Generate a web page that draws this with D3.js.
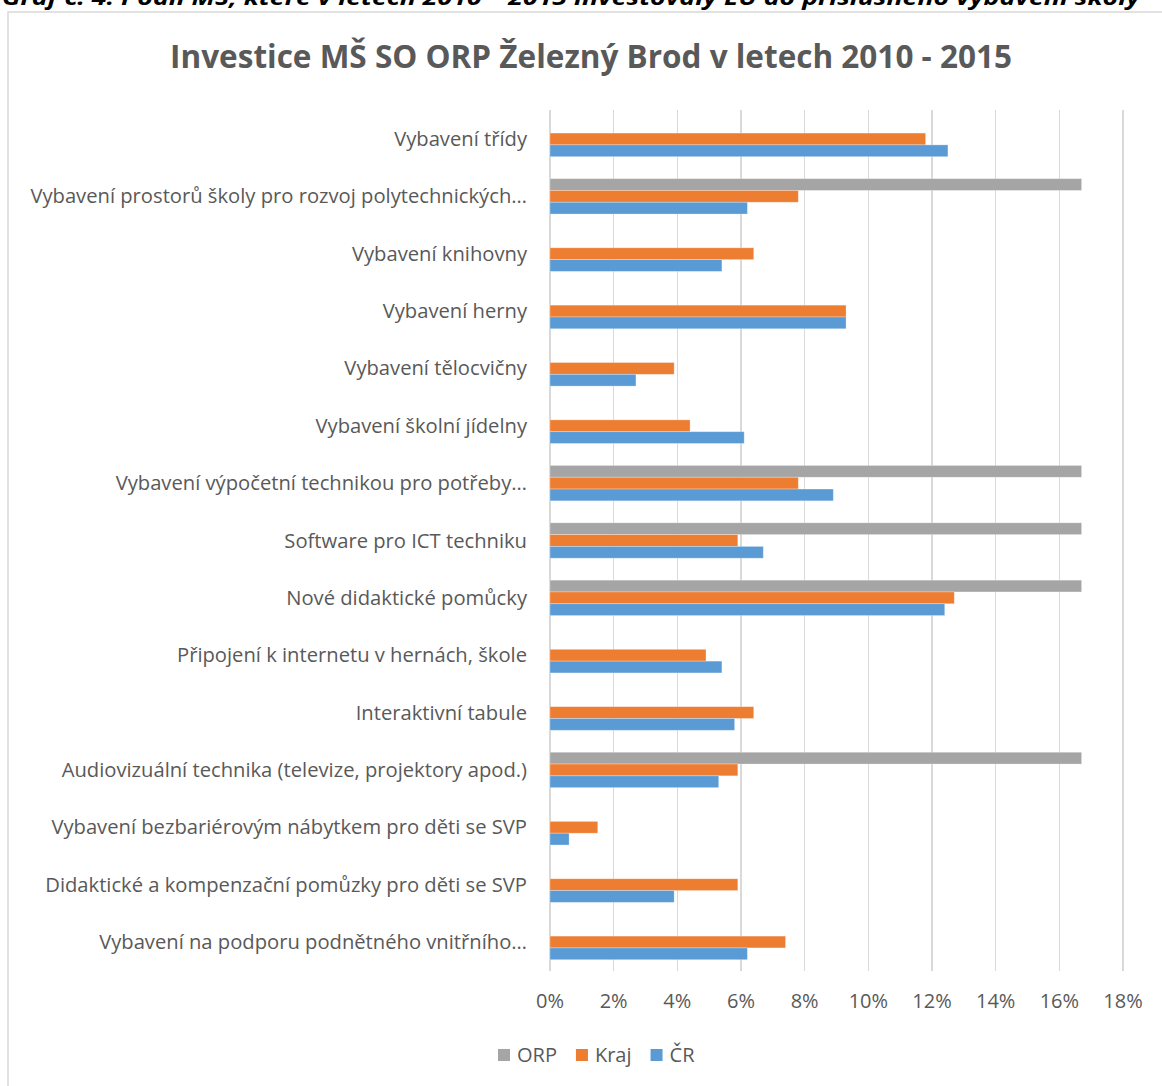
<!DOCTYPE html>
<html>
  <head>
    <meta http-equiv="Content-Type" content="text/html;charset=utf-8"/>
    <style type="text/css">
body {
  margin: 0;
  background: #fff;
  overflow: hidden;
}
svg {
  font-family: "Open Sans", sans-serif;
}
.grid line {
  stroke: #d9d9d9;
  stroke-width: 1.5px;
  shape-rendering: crispEdges;
}
.cat text, .tick-label, .legend text {
  fill: #595959;
}
    </style>
  </head>
  <body>
    <svg></svg>
    <script type="text/javascript" src="https://cdn.jsdelivr.net/npm/d3@7/dist/d3.min.js"></script>
    <script type="text/javascript">

var categories = [
  "Vybavení třídy",
  "Vybavení prostorů školy pro rozvoj polytechnických…",
  "Vybavení knihovny",
  "Vybavení herny",
  "Vybavení tělocvičny",
  "Vybavení školní jídelny",
  "Vybavení výpočetní technikou pro potřeby…",
  "Software pro ICT techniku",
  "Nové didaktické pomůcky",
  "Připojení k internetu v hernách, škole",
  "Interaktivní tabule",
  "Audiovizuální technika (televize, projektory apod.)",
  "Vybavení bezbariérovým nábytkem pro děti se SVP",
  "Didaktické a kompenzační pomůzky pro děti se SVP",
  "Vybavení na podporu podnětného vnitřního…"
];

var orp  = [0, 16.7, 0, 0, 0, 0, 16.7, 16.7, 16.7, 0, 0, 16.7, 0, 0, 0];
var kraj = [11.8, 7.8, 6.4, 9.3, 3.9, 4.4, 7.8, 5.9, 12.7, 4.9, 6.4, 5.9, 1.5, 5.9, 7.4];
var cr   = [12.5, 6.2, 5.4, 9.3, 2.7, 6.1, 8.9, 6.7, 12.4, 5.4, 5.8, 5.3, 0.6, 3.9, 6.2];

var seriesNames = ["ORP", "Kraj", "ČR"];
var seriesColors = ["#a5a5a5", "#ed7d31", "#5b9bd5"];
var xTicks = [0, 2, 4, 6, 8, 10, 12, 14, 16, 18];

var W = 1162, H = 1086;
var svg = d3.select("svg").attr("width", W).attr("height", H);

// caption of the document, cut by the top of the page
svg.append("text")
    .attr("x", 2)
    .attr("y", 5)
    .attr("textLength", 1138)
    .attr("lengthAdjust", "spacingAndGlyphs")
    .style("font-weight", "bold")
    .style("font-style", "italic")
    .style("font-size", "21px")
    .style("fill", "#000")
    .text("Graf č. 4: Podíl MŠ, které v letech 2010 – 2015 investovaly EU do příslušného vybavení školy");

// chart frame
svg.append("rect")
    .attr("x", 8).attr("y", 12)
    .attr("width", W + 10).attr("height", H + 10)
    .attr("fill", "none")
    .attr("stroke", "#d9d9d9")
    .attr("stroke-width", 1.5);

svg.append("text")
    .attr("x", 591)
    .attr("y", 68)
    .attr("text-anchor", "middle")
    .style("font-weight", "bold")
    .style("font-size", "31.5px")
    .style("fill", "#595959")
    .text("Investice MŠ SO ORP Železný Brod v letech 2010 - 2015");

var x = d3.scaleLinear().domain([0, 18]).range([550, 1123]);
var y = d3.scaleBand().domain(categories).range([110.3, 970.7]);
var barH = 11.8;
var yIn = d3.scaleBand().domain(seriesNames)
    .range([y.bandwidth() / 2 - 1.5 * barH, y.bandwidth() / 2 + 1.5 * barH]);

// gridlines
svg.append("g").attr("class", "grid")
  .selectAll("line")
  .data(xTicks)
  .enter().append("line")
    .attr("x1", function(d) { return x(d); })
    .attr("x2", function(d) { return x(d); })
    .attr("y1", 110)
    .attr("y2", 971);

svg.append("g")
  .selectAll("text")
  .data(xTicks)
  .enter().append("text")
    .attr("class", "tick-label")
    .attr("x", function(d) { return x(d); })
    .attr("y", 1001)
    .attr("dy", ".35em")
    .attr("text-anchor", "middle")
    .style("font-size", "20px")
    .text(function(d) { return d + "%"; });

// bars
var rows = categories.map(function(c, i) {
  return {cat: c, values: [orp[i], kraj[i], cr[i]]};
});

var cat = svg.selectAll("g.cat")
    .data(rows)
  .enter().append("g")
    .attr("class", "cat")
    .attr("transform", function(d) { return "translate(0," + y(d.cat) + ")"; });

cat.selectAll("rect")
    .data(function(d) {
      return d.values.map(function(v, j) { return {name: seriesNames[j], value: v, color: seriesColors[j]}; });
    })
  .enter().append("rect")
    .attr("x", x(0))
    .attr("y", function(d) { return yIn(d.name); })
    .attr("height", yIn.bandwidth())
    .attr("width", function(d) { return x(d.value) - x(0); })
    .attr("fill", function(d) { return d.color; })
    .attr("stroke", "rgba(255,255,255,0.35)")
    .attr("stroke-width", 0.8);

cat.append("text")
    .attr("x", 527)
    .attr("y", y.bandwidth() / 2)
    .attr("dy", ".35em")
    .attr("text-anchor", "end")
    .style("font-size", "20.2px")
    .text(function(d) { return d.cat; });

// legend
var legend = svg.append("g").attr("class", "legend");
var lx = 498;
seriesNames.forEach(function(s, i) {
  legend.append("rect")
      .attr("x", lx).attr("y", 1049)
      .attr("width", 12).attr("height", 12)
      .attr("fill", seriesColors[i]);
  var t = legend.append("text")
      .attr("x", lx + 19).attr("y", 1055)
      .attr("dy", ".35em")
      .style("font-size", "20px")
      .text(s);
  lx += 19 + t.node().getComputedTextLength() + 19;
});

    </script>
  </body>
</html>
